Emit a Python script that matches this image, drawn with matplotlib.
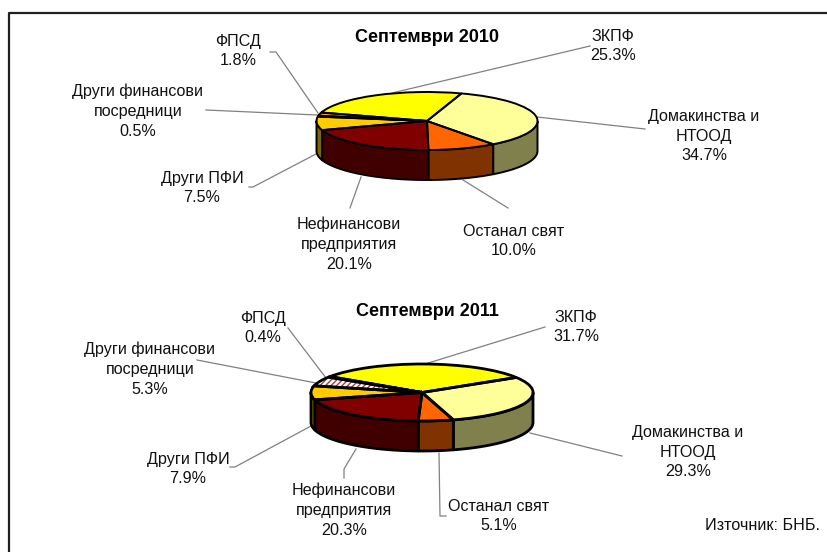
import numpy as np
import matplotlib
matplotlib.use('Agg')
import matplotlib.pyplot as plt

plt.rcParams['font.family'] = ['Liberation Sans', 'DejaVu Sans']

# Data for the chart
categories = ['ЗКПФ', 'Домакинства и\nНТООД', 'Останал свят', 'Нефинансови\nпредприятия',
              'Други ПФИ', 'Други финансови\nпосредници', 'ФПСД']
values_2010 = [25.3, 34.7, 10.0, 20.1, 7.5, 0.5, 1.8]
values_2011 = [31.7, 29.3, 5.1, 20.3, 7.9, 5.3, 0.4]

top_colors = ['#FFFF00', '#FFFF99', '#FF6600', '#800000', '#FFCC00', '#FFFFFF', '#F0A000']
side_colors = ['#808000', '#80804D', '#803300', '#400000', '#806600', '#804040', '#805000']
hatch_color = '#A04040'

W, H = 828, 552
fig = plt.figure(figsize=(W / 100, H / 100), dpi=100)
bg = fig.add_axes([0, 0, 1, 1])
bg.set_xlim(0, W)
bg.set_ylim(H, 0)
bg.axis('off')

# outer frame
bg.plot([828, 9, 9], [13, 13, 552], color='#202020', lw=1.6, solid_capstyle='butt')


def draw_pie(values, cx, cy, rx, ry, depth, start, lw):
    # own axes for each pie: unit circle squashed to rx, ry pixels
    ax = fig.add_axes([(cx - 1.2 * rx) / W, 1 - (cy + ry + 1.2 * depth) / H,
                       2.4 * rx / W, (ry + 1.2 * depth + 1.2 * ry) / H], zorder=2)
    d = depth / ry
    fr = np.array(values) / sum(values)
    a0 = start
    for f, c in zip(fr, side_colors):
        a1 = a0 - f * 360
        t = np.radians(np.linspace(a1, a0, 120))
        t = t[np.sin(t) <= 0]
        if len(t) > 1:
            xs = np.cos(t)
            ys = np.sin(t)
            ax.fill(np.r_[xs, xs[::-1]], np.r_[ys, ys[::-1] - d], facecolor=c,
                    edgecolor='black', lw=lw, joinstyle='round')
        a0 = a1
    wedges, _ = ax.pie(values, colors=top_colors, startangle=start, counterclock=False,
                       normalize=True, radius=1, wedgeprops=dict(lw=0))
    wedges[5].set_hatch('//////')
    wedges[5].set_edgecolor(hatch_color)
    ax.pie(values, colors=['none'] * 7, startangle=start, counterclock=False,
           normalize=True, radius=1, wedgeprops=dict(lw=lw, edgecolor='black'))
    ax.set_aspect('auto')
    ax.set_xlim(-1.2, 1.2)
    ax.set_ylim(-1 - 1.2 * d, 1.2)
    ax.axis('off')


draw_pie(values_2010, 427, 121, 110.5, 29, 30, 163, 1.4)
draw_pie(values_2011, 422, 392.5, 111, 28.5, 30, 146, 2.0)


def label(i, values, x, y):
    bg.text(x, y, categories[i] + '\n%.1f%%' % values[i], ha='center', va='center',
            fontsize=11.6, color='#111111', linespacing=1.4)


# label centres
pos_2010 = [(613, 46), (704, 136), (514, 241), (349, 244), (202, 188), (138, 111), (238, 51)]
pos_2011 = [(576, 327), (688, 452), (499, 516), (344, 510), (188, 469), (150, 369), (263, 328)]
for i in range(7):
    label(i, values_2010, *pos_2010[i])
    label(i, values_2011, *pos_2011[i])

bg.text(427, 37, 'Септември 2010', ha='center', va='center', fontsize=13, fontweight='bold')
bg.text(427, 311, 'Септември 2011', ha='center', va='center', fontsize=13, fontweight='bold')
bg.text(820, 526, 'Източник: БНБ.', ha='right', va='center', fontsize=11.6, color='#111111')

# leader lines
leaders = [
    [(270, 52), (276, 52), (318, 113)],
    [(590, 46), (392, 93)],
    [(537, 117), (645, 129)],
    [(463, 180), (508, 208)],
    [(361, 177), (350, 208)],
    [(316, 154), (253, 187), (249, 187)],
    [(206, 110), (317, 115)],
    [(288, 328), (326, 378)],
    [(545, 327), (425, 364)],
    [(530, 433), (622, 456)],
    [(439, 453), (440, 516), (446, 516)],
    [(356, 449), (344, 469), (344, 478)],
    [(311, 426), (235, 467), (230, 467)],
    [(197, 360), (316, 383)],
]
for pts in leaders:
    xs, ys = zip(*pts)
    bg.plot(xs, ys, color='#808080', lw=0.9)

plt.savefig('out.png', dpi=100)
